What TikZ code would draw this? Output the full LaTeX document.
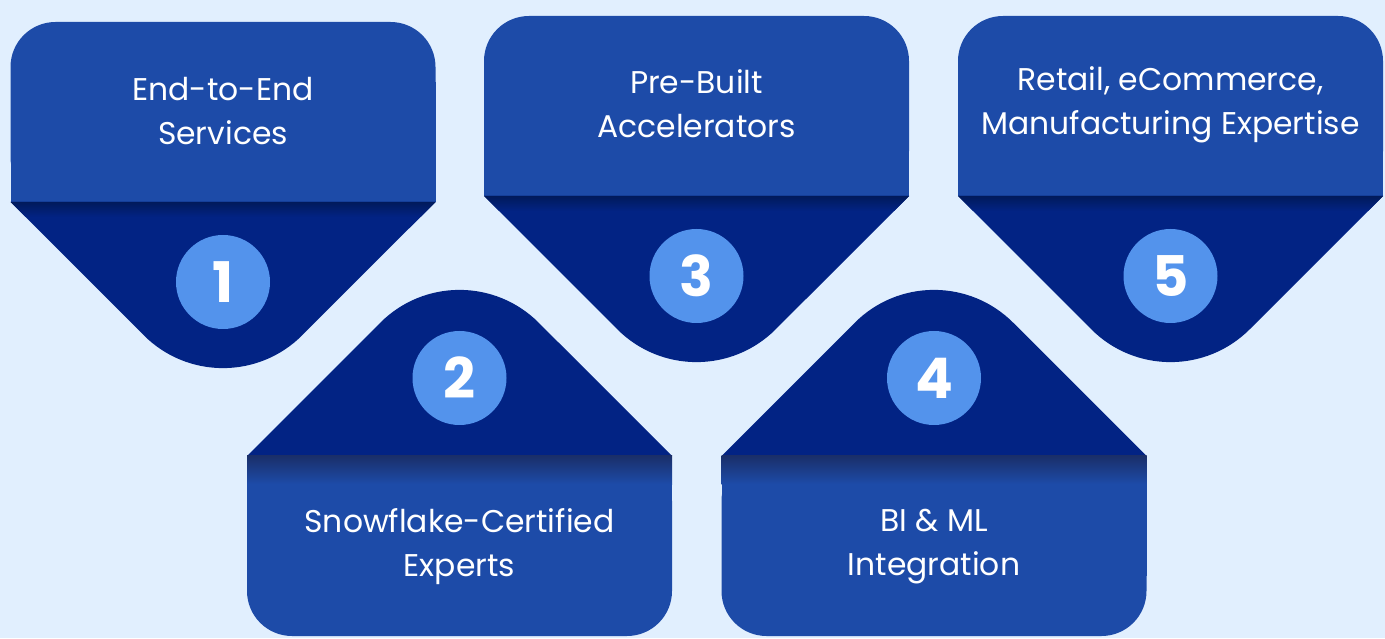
\documentclass[tikz,border=0pt]{standalone}
\usepackage{fontspec}
\setmainfont{Poppins}
\definecolor{bgcol}{HTML}{E1EFFE}
\definecolor{cardA}{HTML}{1D4BA8}
\definecolor{cardB}{HTML}{022384}
\definecolor{shadeA}{HTML}{011A5B}
\definecolor{shadeB}{HTML}{1A2F6A}
\definecolor{badgecol}{HTML}{5393EC}
\tikzset{
  badgest/.style={circle, fill=badgecol, minimum size=94pt, inner sep=0pt, text=white,
    font=\fontsize{56}{60}\selectfont\bfseries},
  labelst/.style={align=center, text=white, inner sep=0pt,
    font=\fontsize{31.4}{44}\selectfont},
}
% #1 id, #2 cx, #3 rect top (y up), #4 last baseline y, #5 number, #6 text
\newcommand\topitem[6]{%
  \pgfmathsetmacro\pXa{#2-212.5}%
  \pgfmathsetmacro\pXb{#2+212.5}%
  \pgfmathsetmacro\pYt{#3}%
  \pgfmathsetmacro\pYb{#3-180}%
  \fill[cardA, rounded corners=45pt] (\pXa,\pYb) rectangle (\pXb,\pYt);
  \fill[cardA] (\pXa,\pYb) rectangle (\pXb,\pYt-60);
  \fill[cardB] (\pXa,\pYb) -- ({#2-79.2},{\pYb-133.3}) arc[start angle=225,end angle=315,radius=112pt] -- (\pXb,\pYb) -- cycle;
  \shade[top color=shadeA, bottom color=cardB] (\pXa,\pYb) -- (\pXb,\pYb) -- (\pXb-15,\pYb-15) -- (\pXa+15,\pYb-15) -- cycle;
  \node[badgest] (n#1) at (#2,\pYb-80) {#5};
  \node[labelst, anchor=base] (t#1) at (#2,#4) {#6};
}
\newcommand\bottomitem[6]{%
  \pgfmathsetmacro\pXa{#2-212.5}%
  \pgfmathsetmacro\pXb{#2+212.5}%
  \pgfmathsetmacro\pYt{#3}%
  \pgfmathsetmacro\pYb{#3-180}%
  \fill[cardA, rounded corners=45pt] (\pXa,\pYb) rectangle (\pXb,\pYt);
  \fill[cardA] (\pXa,\pYb+60) rectangle (\pXb,\pYt);
  \fill[cardB] (\pXa,\pYt) -- ({#2-79.2},{\pYt+133.3}) arc[start angle=135,end angle=45,radius=112pt] -- (\pXb,\pYt) -- cycle;
  \shade[top color=shadeB, bottom color=cardA] (\pXa,\pYt-28) rectangle (\pXb,\pYt);
  \node[badgest] (n#1) at (#2,\pYt+78) {#5};
  \node[labelst, anchor=base] (t#1) at (#2,#4) {#6};
}
\begin{document}
\begin{tikzpicture}[x=1pt,y=1pt]
  \fill[bgcol] (0,0) rectangle (1385,638);
  \useasboundingbox (0,0) rectangle (1385,638);
  \topitem{1}{223}{616}{493}{1}{End-to-End\\Services}
  \topitem{3}{696.5}{622}{500}{3}{Pre-Built\\Accelerators}
  \topitem{5}{1170.5}{622}{503}{5}{Retail, eCommerce,\\Manufacturing Expertise}
  \bottomitem{2}{459.5}{182}{62}{2}{Snowflake-Certified\\Experts}
  \bottomitem{4}{934}{182}{63}{4}{BI \& ML\\Integration}
\end{tikzpicture}
\end{document}
